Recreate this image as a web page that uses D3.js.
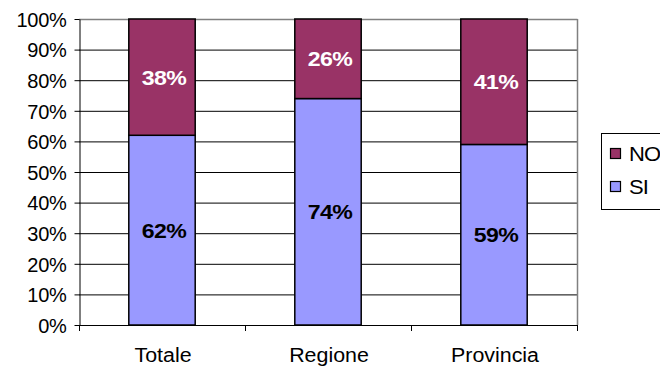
<!DOCTYPE html>
<html><head><meta charset="utf-8">
<script src="https://cdn.jsdelivr.net/npm/d3@7"></script>
<style>body{margin:0;background:#fff}text{font-family:"Liberation Sans",Arial,sans-serif}</style>
</head><body><svg id="c" width="660" height="369"></svg>
<script>
const categories = ["Totale", "Regione", "Provincia"];
const siValues = [62, 74, 59];
const noValues = [38, 26, 41];
const seriesNames = ["NO", "SI"];
const yTicks = [0,10,20,30,40,50,60,70,80,90,100];

const svg = d3.select("#c");
const L = 79, R = 577, T = 19, B = 325;
const x = d3.scaleBand().domain(categories).range([L, R]).paddingInner(0.6).paddingOuter(0.3);
const y = d3.scaleLinear().domain([0, 100]).range([B, T]);
const colors = {SI: "#9999FF", NO: "#993366"};

// gridlines
svg.append("g").selectAll("line").data(yTicks.filter(d => d > 0 && d < 100)).join("line")
  .attr("x1", L).attr("x2", R).attr("y1", d => y(d)+0.5).attr("y2", d => y(d)+0.5)
  .attr("stroke", "#000").attr("stroke-width", 1);
// frame top & right gray
svg.append("line").attr("x1", L).attr("x2", R+0.5).attr("y1", T+0.5).attr("y2", T+0.5).attr("stroke", "#808080").attr("stroke-width", 1.5);
svg.append("line").attr("x1", R+0.5).attr("x2", R+0.5).attr("y1", T).attr("y2", B).attr("stroke", "#808080").attr("stroke-width", 1.5);

// y axis
const yAxis = d3.axisLeft(y).tickValues(yTicks).tickFormat(d => d + "%").tickSize(5).tickSizeOuter(0);
const ya = svg.append("g").attr("transform", `translate(${L+0.5},0)`).call(yAxis);
ya.select(".domain").attr("stroke", "#000");
ya.selectAll(".tick line").attr("stroke", "#000");
ya.selectAll(".tick text").attr("font-size", 20).attr("fill", "#000").attr("x", -13).attr("dy", "0.36em")
  .attr("letter-spacing", -0.3)
  .attr("font-family", "Liberation Sans, Arial, sans-serif");

// x axis with ticks at band boundaries
const xb = d3.scaleLinear().domain([0, 3]).range([L, R]);
svg.append("line").attr("x1", L).attr("x2", R+1).attr("y1", B+0.5).attr("y2", B+0.5).attr("stroke", "#000");
svg.append("g").selectAll("line").data([0,1,2,3]).join("line")
  .attr("x1", d => xb(d)+0.5).attr("x2", d => xb(d)+0.5).attr("y1", B).attr("y2", B+6).attr("stroke", "#000");
svg.append("g").selectAll("text").data(categories).join("text")
  .attr("transform", d => `translate(${x(d)+x.bandwidth()/2+1},362) scale(1.07,1)`)
  .attr("text-anchor", "middle").attr("font-size", 20).text(d => d);

// bars
const stackData = categories.map((c, i) => ({c, SI: siValues[i], NO: noValues[i]}));
const g = svg.append("g");
stackData.forEach(d => {
  g.append("rect").attr("x", x(d.c)).attr("width", x.bandwidth())
    .attr("y", y(d.SI)).attr("height", y(0) - y(d.SI))
    .attr("fill", colors.SI).attr("stroke", "#000").attr("stroke-width", 1.5);
  g.append("rect").attr("x", x(d.c)).attr("width", x.bandwidth())
    .attr("y", y(d.SI + d.NO)).attr("height", y(d.SI) - y(d.SI + d.NO))
    .attr("fill", colors.NO).attr("stroke", "#000").attr("stroke-width", 1.5);
  g.append("text").attr("transform", `translate(${x(d.c)+x.bandwidth()/2+2},${y(d.SI/2)}) scale(1.1,1)`)
    .attr("text-anchor", "middle").attr("dy", "0.36em").attr("font-size", 21).attr("font-weight", "bold")
    .attr("letter-spacing", -0.5).attr("fill", "#000").text(d.SI + "%");
  g.append("text").attr("transform", `translate(${x(d.c)+x.bandwidth()/2+2},${y(d.SI + d.NO/2)}) scale(1.1,1)`)
    .attr("text-anchor", "middle").attr("dy", "0.36em").attr("font-size", 21).attr("font-weight", "bold")
    .attr("letter-spacing", -0.5).attr("fill", "#fff").text(d.NO + "%");
});

// legend
const lg = svg.append("g");
lg.append("rect").attr("x", 601.5).attr("y", 133.5).attr("width", 70).attr("height", 76)
  .attr("fill", "#fff").attr("stroke", "#000").attr("stroke-width", 1);
seriesNames.forEach((s, i) => {
  const cy = 154 + i * 33;
  lg.append("rect").attr("x", 610.5).attr("y", cy - 5.5).attr("width", 10).attr("height", 10)
    .attr("fill", colors[s]).attr("stroke", "#000").attr("stroke-width", 1.2);
  lg.append("text").attr("transform", `translate(629,${cy}) scale(1.1,1)`).attr("dy", "0.36em")
    .attr("letter-spacing", -0.8).attr("font-size", 20).text(s);
});
</script></body></html>
